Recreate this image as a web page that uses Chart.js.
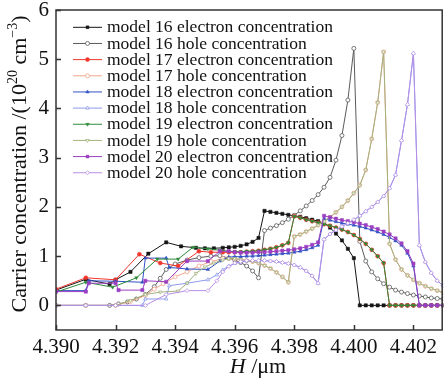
<!DOCTYPE html>
<html>
<head>
<meta charset="utf-8">
<script src="https://cdn.jsdelivr.net/npm/chart.js@4.4.1/dist/chart.umd.min.js"></script>
<style>
  html, body { margin: 0; padding: 0; background: #fff; }
</style>
</head>
<body>
<canvas id="myChart" width="448" height="380"></canvas>
<script>
// values (H in um, concentration in 1e20 cm^-3)
const xTicks = [4.390, 4.392, 4.394, 4.396, 4.398, 4.400, 4.402];
const yTicks = [0, 1, 2, 3, 4, 5, 6];

const seriesNames = [
  "model 16 electron concentration",
  "model 16 hole concentration",
  "model 17 electron concentration",
  "model 17 hole concentration",
  "model 18 electron concentration",
  "model 18 hole concentration",
  "model 19 electron concentration",
  "model 19 hole concentration",
  "model 20 electron concentration",
  "model 20 hole concentration"
];

// shared sampling positions on the right side
const xTail16 = [4.3970,4.3972,4.3974,4.3976,4.3978,4.3980,4.3982,4.3984,4.3986,4.3988,4.3990,4.3992,4.3994,4.3996,4.3998,4.4000,
  4.4002,4.4004,4.4006,4.4008,4.4010,4.4012,4.4014,4.4016,4.4018,4.4020,4.4022,4.4024,4.4026,4.4028,4.4030];
const xMidA = [4.3958,4.3960,4.3962,4.3964,4.3966,4.3968,4.3970,4.3972,4.3974,4.3976,4.3978];
const xTailA = [4.3980,4.3982,4.3984,4.3986,4.3988,4.3990,4.3992,4.3994,4.3996,4.3998,4.4000,4.4002,4.4004,4.4006,4.4008,4.4010,
  4.4012,4.4014,4.4016,4.4018,4.4020,4.4022,4.4024,4.4026,4.4028,4.4030];
const xMidB = [4.3958,4.3960,4.3962,4.3964,4.3966,4.3968,4.3970,4.3972,4.3974,4.3976,4.3978,4.3980,4.3982,4.3984,4.3986,4.3988];
const xTailB = [4.3990,4.3992,4.3994,4.3996,4.3998,4.4000,4.4002,4.4004,4.4006,4.4008,4.4010,4.4012,4.4014,4.4016,4.4018,4.4020,
  4.4022,4.4024,4.4026,4.4028,4.4030];

// model 16
const x16e = [4.3900,4.3910,4.3918,4.3920,4.3925,4.3931,4.3937,4.3942,4.3947,4.3950,4.3953,4.3956,4.3958,4.3960,4.3962,4.3964,4.3966,4.3968].concat(xTail16);
const y16e = [0.31,0.53,0.43,0.52,0.68,1.05,1.28,1.20,1.17,1.16,1.16,1.17,1.18,1.19,1.21,1.24,1.29,1.37,
  1.92,1.90,1.88,1.86,1.84,1.82,1.80,1.77,1.74,1.71,1.67,1.58,1.46,1.32,1.15,0.96,
  0,0,0,0,0,0,0,0,0,0,0,0,0,0,0];
const x16h = [4.3900,4.3910,4.3918,4.3921,4.3924,4.3927,4.3930,4.3933,4.3935,4.3937,4.3940,4.3944,4.3948,4.3952,4.3955,4.3958,4.3960,4.3962,4.3964,4.3966,4.3968].concat(xTail16);
const y16h = [0,0,0,0.03,0.07,0.13,0.22,0.38,0.55,0.73,0.84,0.92,0.97,1.00,1.01,0.96,0.92,0.87,0.80,0.70,0.56,
  1.52,1.57,1.62,1.68,1.75,1.83,1.92,2.02,2.13,2.25,2.40,2.60,2.95,3.45,4.17,5.22,
  1.30,0.90,0.68,0.54,0.44,0.37,0.31,0.27,0.24,0.21,0.19,0.17,0.15,0.14,0.13];

// models 17 and 19 share the right part, 18 and 20 too
const yTailAe = [1.81,1.78,1.74,1.71,1.68,1.65,1.62,1.58,1.54,1.49,1.43,1.35,1.25,1.13,1.00,0.86,0,0,0,0,0,0,0,0,0,0];
const yTailAh = [1.40,1.44,1.50,1.56,1.63,1.71,1.79,1.89,2.00,2.13,2.28,2.44,2.75,3.38,4.12,5.15,1.25,0.93,0.73,0.61,0.52,0.45,0.39,0.34,0.30,0.26];
const yTailBh = [1.34,1.45,1.53,1.60,1.67,1.74,1.82,1.91,2.00,2.10,2.22,2.38,2.65,3.35,4.08,5.12,1.22,0.88,0.66,0.50,0.40];

const x17e = [4.3900,4.3910,4.3920,4.3928,4.3935,4.3941,4.3948,4.3952,4.3956].concat(xMidA, xTailA);
const y17e = [0.33,0.56,0.52,1.04,0.86,0.80,1.10,1.08,1.08,
  1.08,1.08,1.08,1.09,1.10,1.11,1.13,1.15,1.18,1.22,1.27].concat(yTailAe);
const x17h = [4.3900,4.3910,4.3920,4.3925,4.3930,4.3933,4.3936,4.3940,4.3944,4.3948,4.3952,4.3956].concat(xMidA, xTailA);
const y17h = [0,0,0,0.08,0.20,0.33,0.44,0.58,0.68,0.80,0.89,0.95,
  0.96,0.95,0.93,0.91,0.89,0.86,0.81,0.75,0.67,0.58,0.47].concat(yTailAh);

const x18e = [4.3900,4.3910,4.3911,4.3920,4.3929,4.3930,4.3937,4.3938,4.3944,4.3951,4.3955].concat(xMidB, xTailB);
const y18e = [0.30,0.30,0.50,0.49,0.47,0.96,0.96,0.77,0.74,0.73,0.90,
  0.98,0.99,0.99,1.00,1.00,1.01,1.02,1.03,1.04,1.05,1.06,1.08,1.10,1.13,1.17,1.22,
  1.76,1.73,1.70,1.67,1.65,1.63,1.60,1.57,1.53,1.49,1.44,1.38,1.31,1.22,1.06,0.80,0,0,0,0,0];
const x18h = [4.3900,4.3910,4.3920,4.3929,4.3930,4.3937,4.3938,4.3944,4.3951,4.3954,4.3956].concat(xMidB, xTailB);
const y18h = [0,0,0,0,0.13,0.13,0.40,0.45,0.52,0.62,0.72,
  0.80,0.85,0.88,0.90,0.91,0.91,0.91,0.90,0.89,0.87,0.85,0.82,0.77,0.70,0.60,0.45].concat(yTailBh);

const x19e = [4.3900,4.3910,4.3919,4.3927,4.3934,4.3941,4.3946,4.3951,4.3955].concat(xMidA, xTailA);
const y19e = [0.27,0.47,0.37,0.56,0.94,0.94,1.18,1.15,1.12,
  1.10,1.09,1.09,1.10,1.10,1.11,1.13,1.15,1.18,1.22,1.27].concat(yTailAe);
const x19h = [4.3900,4.3910,4.3920,4.3925,4.3930,4.3935,4.3941,4.3944,4.3947,4.3950,4.3953,4.3956].concat(xMidA, xTailA);
const y19h = [0,0,0,0.10,0.22,0.27,0.29,0.45,0.65,0.78,0.86,0.92,
  0.95,0.95,0.93,0.91,0.89,0.86,0.81,0.75,0.67,0.58,0.47].concat(yTailAh);

const x20e = [4.3900,4.3910,4.3911,4.3920,4.3921,4.3929,4.3930,4.3937,4.3944,4.3951,4.3955].concat(xMidB, xTailB);
const y20e = [0.28,0.28,0.45,0.45,0.31,0.31,0.50,0.48,0.90,0.90,1.10,
  1.10,1.08,1.07,1.07,1.07,1.08,1.08,1.09,1.10,1.11,1.12,1.14,1.16,1.19,1.23,1.28,
  1.82,1.79,1.76,1.73,1.71,1.69,1.66,1.63,1.59,1.55,1.50,1.44,1.36,1.26,1.10,0.85,0,0,0,0,0];
const x20h = [4.3900,4.3910,4.3920,4.3930,4.3937,4.3944,4.3951,4.3954,4.3956].concat(xMidB, xTailB);
const y20h = [0,0,0,0,0.22,0.30,0.30,0.50,0.68,
  0.79,0.86,0.89,0.91,0.91,0.91,0.91,0.90,0.89,0.87,0.85,0.82,0.77,0.70,0.60,0.45].concat(yTailBh);

const seriesX = [x16e, x16h, x17e, x17h, x18e, x18h, x19e, x19h, x20e, x20h];
const seriesY = [y16e, y16h, y17e, y17h, y18e, y18h, y19e, y19h, y20e, y20h];

const colors = ["#151515", "#5a5a5a", "#f2372c", "#f3a68c", "#3352c4", "#8d9bee",
                "#2f8a3b", "#a3b27e", "#9b3fc2", "#b68fe6"];
const markers = ["rect", "circle", "circle", "circle", "triangle", "triangle",
                 "triangle", "triangle", "rect", "rectRot"];
const rotations = [0, 0, 0, 0, 0, 0, 180, 180, 0, 0];

const serif = '"Liberation Serif", "Times New Roman", serif';

function toPoints(xs, ys) {
    return xs.map((x, i) => ({ x: x, y: ys[i] }));
}

const datasets = seriesNames.map((name, i) => {
    const hollow = i % 2 === 1;
    return {
        label: name,
        data: toPoints(seriesX[i], seriesY[i]),
        borderColor: colors[i],
        backgroundColor: colors[i],
        borderWidth: 1,
        pointStyle: markers[i],
        pointRotation: rotations[i],
        pointRadius: markers[i] === "rect" ? 2.3 : 2,
        pointBorderWidth: hollow ? 0.8 : 0.5,
        pointBorderColor: colors[i],
        pointBackgroundColor: hollow ? "#ffffff" : colors[i],
        tension: 0,
        order: seriesNames.length - i   // later models drawn on top
    };
});

// legend inside the plot, line + marker + text
const insideLegend = {
    id: "insideLegend",
    afterDatasetsDraw(chart) {
        const ctx = chart.ctx;
        const area = chart.chartArea;
        const x0 = area.left + 17;
        ctx.save();
        chart.data.datasets.forEach((ds, i) => {
            const y = area.top + 17.3 + i * 16.16;
            ctx.strokeStyle = ds.borderColor;
            ctx.lineWidth = 1;
            ctx.beginPath();
            ctx.moveTo(x0, y);
            ctx.lineTo(x0 + 29, y);
            ctx.stroke();
            ctx.fillStyle = ds.pointBackgroundColor;
            ctx.strokeStyle = ds.pointBorderColor;
            ctx.lineWidth = ds.pointBorderWidth;
            Chart.helpers.drawPoint(ctx, {
                pointStyle: ds.pointStyle, rotation: ds.pointRotation,
                radius: 2, borderWidth: ds.pointBorderWidth
            }, x0 + 14.5, y);
            ctx.fillStyle = "#111111";
            ctx.font = "17.5px " + serif;
            ctx.textBaseline = "middle";
            ctx.textAlign = "left";
            ctx.fillText(ds.label, x0 + 34, y + 0.5);
        });
        ctx.restore();
    }
};

// frame, inward tick marks and axis titles
const frameAndTitles = {
    id: "frameAndTitles",
    afterDraw(chart) {
        const ctx = chart.ctx;
        const a = chart.chartArea;
        const xs = chart.scales.x, ys = chart.scales.y;
        ctx.save();
        ctx.strokeStyle = "#333333";
        ctx.lineWidth = 1.5;
        ctx.strokeRect(a.left, a.top, a.right - a.left - 1, a.bottom - a.top);
        ctx.beginPath();
        xTicks.forEach(v => {
            const px = Math.round(xs.getPixelForValue(v)) + 0.5;
            ctx.moveTo(px, a.bottom);
            ctx.lineTo(px, a.bottom - 5);
        });
        yTicks.forEach(v => {
            const py = Math.round(ys.getPixelForValue(v)) + 0.5;
            ctx.moveTo(a.left, py);
            ctx.lineTo(a.left + 5, py);
        });
        ctx.stroke();

        // y title with superscripts
        ctx.fillStyle = "#111111";
        ctx.textBaseline = "alphabetic";
        ctx.textAlign = "left";
        const runs = [
            { t: "Carrier concentration /(10", sup: false },
            { t: "20", sup: true },
            { t: " cm", sup: false },
            { t: "\u22123", sup: true },
            { t: ")", sup: false }
        ];
        const big = "22px " + serif, small = "14px " + serif;
        let total = 0;
        runs.forEach(r => { ctx.font = r.sup ? small : big; r.w = ctx.measureText(r.t).width; total += r.w; });
        ctx.translate(26, 164);
        ctx.rotate(-Math.PI / 2);
        let cx = -total / 2;
        runs.forEach(r => {
            ctx.font = r.sup ? small : big;
            ctx.fillText(r.t, cx, r.sup ? -9 : 0);
            cx += r.w;
        });
        ctx.setTransform(1, 0, 0, 1, 0, 0);

        // x title: italic H
        const italic = "italic 22px " + serif;
        const rest = " /\u03bcm";
        ctx.font = italic;
        const wH = ctx.measureText("H").width;
        ctx.font = big;
        const wR = ctx.measureText(rest).width;
        const sx = 258 - (wH + wR) / 2;
        ctx.font = italic;
        ctx.fillText("H", sx, 373);
        ctx.font = big;
        ctx.fillText(rest, sx + wH, 373);
        ctx.restore();
    }
};

new Chart("myChart", {
    type: "line",
    data: { datasets: datasets },
    options: {
        responsive: false,
        animation: false,
        layout: { padding: { top: 10, right: 0, bottom: 0, left: 0 } },
        plugins: {
            legend: { display: false },
            tooltip: { enabled: false }
        },
        scales: {
            x: {
                type: "linear",
                min: 4.390,
                max: 4.403,
                afterFit: s => { s.height = 50; s.paddingLeft = 0; s.paddingRight = 0; },
                afterBuildTicks: s => { s.ticks = xTicks.map(v => ({ value: v })); },
                grid: { display: false, drawTicks: false },
                border: { display: false },
                ticks: {
                    autoSkip: false,
                    maxRotation: 0,
                    padding: 5,
                    color: "#111111",
                    font: { family: serif, size: 21 },
                    callback: v => v.toFixed(3)
                }
            },
            y: {
                min: -0.5,
                max: 6,
                afterFit: s => { s.width = 56; s.paddingTop = 0; s.paddingBottom = 0; },
                afterBuildTicks: s => { s.ticks = yTicks.map(v => ({ value: v })); },
                grid: { display: false, drawTicks: false },
                border: { display: false },
                ticks: {
                    padding: 7,
                    color: "#111111",
                    font: { family: serif, size: 21 }
                }
            }
        }
    },
    plugins: [insideLegend, frameAndTitles]
});
</script>
</body>
</html>
